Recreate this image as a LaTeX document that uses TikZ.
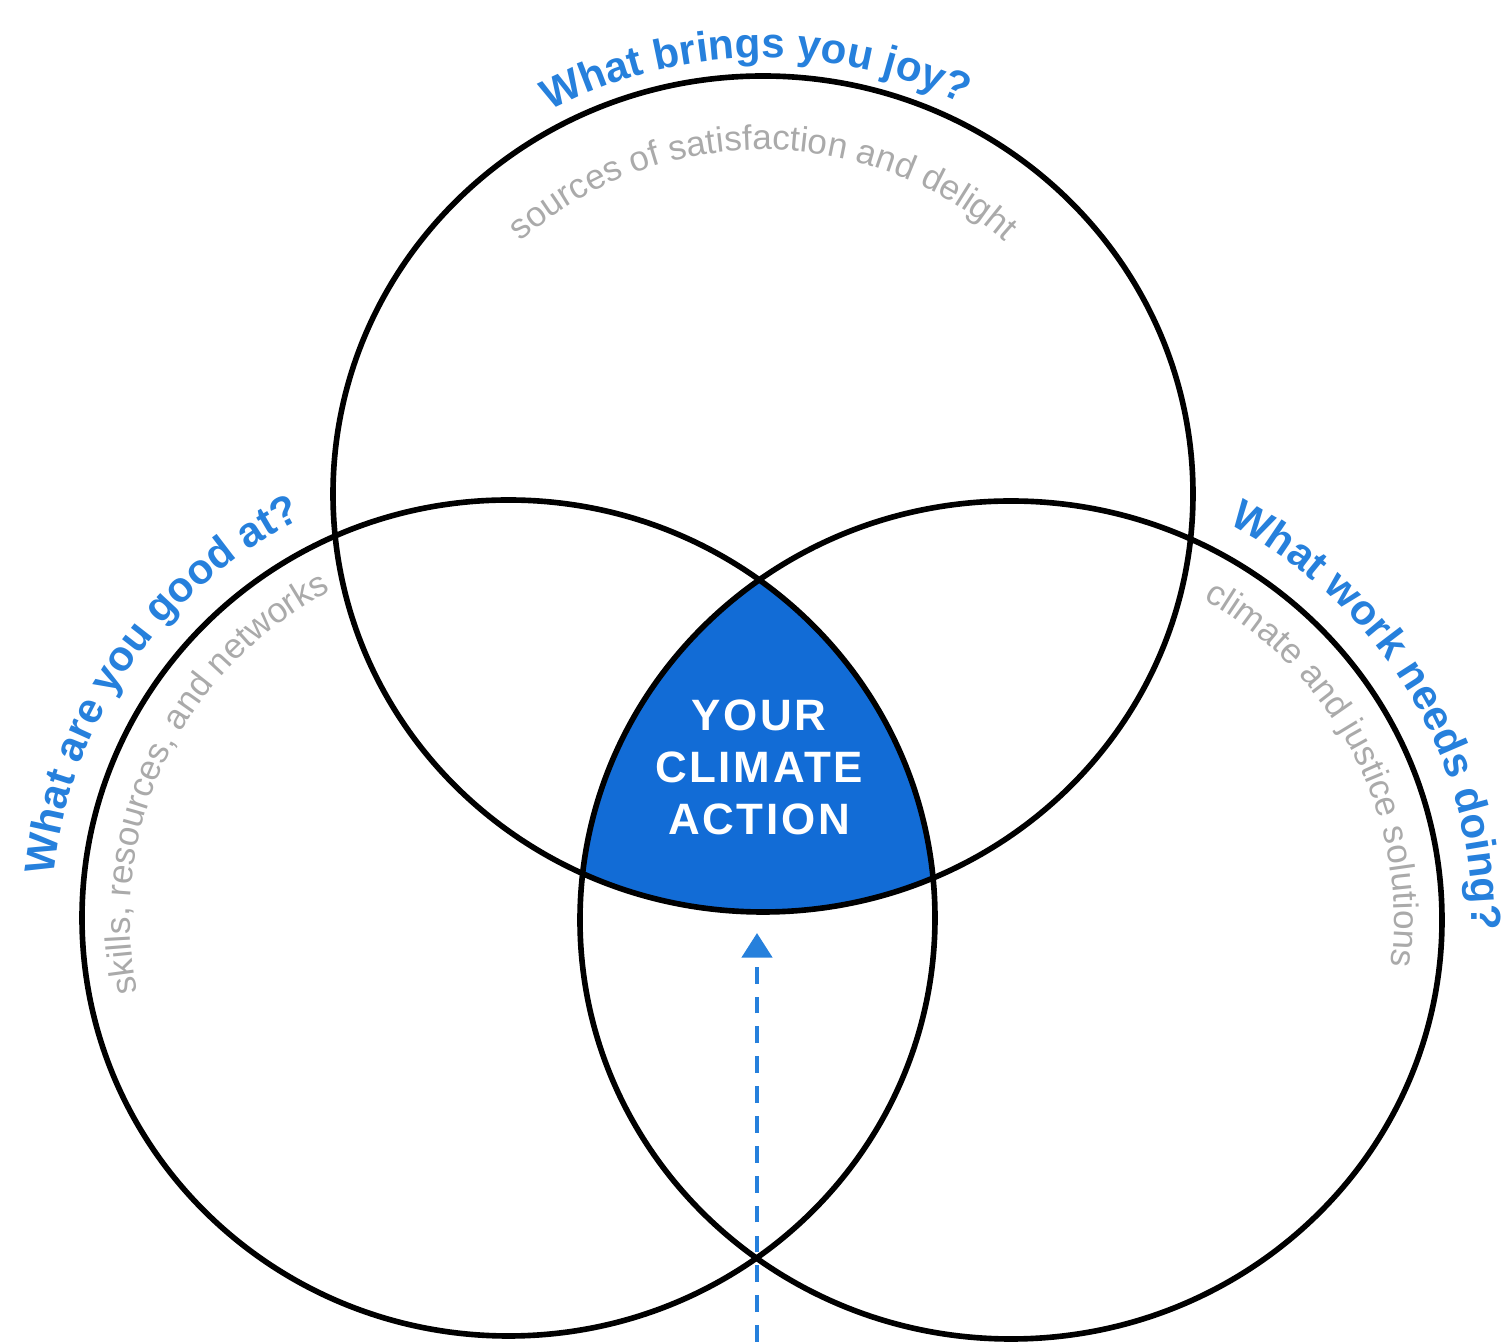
\documentclass[tikz,border=0pt]{standalone}
\usepackage{fontspec}
\setmainfont{Liberation Sans}
\newfontfamily\spacedfont[LetterSpace=6]{Liberation Sans}
\usetikzlibrary{arrows.meta,decorations.text}
\definecolor{actionblue}{RGB}{18,108,214}
\definecolor{askblue}{RGB}{38,128,220}
\definecolor{hintgray}{RGB}{170,170,170}

\begin{document}
\begin{tikzpicture}[
  ring/.style={line width=1.6pt,color=black},
  asktext/.style={decorate,decoration={text along path,text align=center,
    text color=askblue,text={|\fontsize{12}{14}\selectfont\bfseries|#1}}},
  hinttext/.style={decorate,decoration={text along path,text align=center,
    text color=hintgray,text={|\fontsize{10}{12}\selectfont|#1}}}]
\useasboundingbox (0,0) rectangle (15.06,13.42);
\coordinate (joy) at (7.63,8.48);
\coordinate (skill) at (5.085,4.24);
\coordinate (need) at (10.11,4.22);
\begin{scope}
\clip (skill) ellipse [x radius=4.265,y radius=4.18];
\clip (need) ellipse [x radius=4.31,y radius=4.19];
\fill[actionblue] (joy) ellipse [x radius=4.30,y radius=4.18];
\end{scope}
\coordinate (foot) at (7.57,0);
\coordinate (target) at (7.57,4.09);
\draw[askblue,line width=1.4pt,dash pattern=on 4.8pt off 3.7pt,-{Triangle[length=7pt,width=8.5pt]}] (foot) -- (target);
\draw[ring] (joy) ellipse [x radius=4.30,y radius=4.18];
\draw[ring] (skill) ellipse [x radius=4.265,y radius=4.18];
\draw[ring] (need) ellipse [x radius=4.31,y radius=4.19];
\node[text=white,align=center,inner sep=0pt,font=\spacedfont\bfseries\fontsize{12.5}{14.9}\selectfont] (action) at (7.59,5.745) {YOUR\\CLIMATE\\ACTION};
\path[asktext={What brings you joy?}] ([shift={(joy)}]150:4.48 and 4.36) arc[start angle=150,end angle=32,x radius=4.48,y radius=4.36];
\path[hinttext={sources of satisfaction and delight}] ([shift={(joy)}]160:3.56 and 3.44) arc[start angle=160,end angle=20,x radius=3.56,y radius=3.44];
\path[asktext={What are you good at?}] ([shift={(skill)}]206:4.565 and 4.48) arc[start angle=206,end angle=86,x radius=4.565,y radius=4.48];
\path[hinttext={skills, resources, and networks}] ([shift={(skill)}]215:3.785 and 3.70) arc[start angle=215,end angle=95,x radius=3.785,y radius=3.70];
\path[asktext={What work needs doing?}] ([shift={(need)}]90:4.61 and 4.49) arc[start angle=90,end angle=-30,x radius=4.61,y radius=4.49];
\path[hinttext={climate and justice solutions}] ([shift={(need)}]86:3.83 and 3.71) arc[start angle=86,end angle=-34,x radius=3.83,y radius=3.71];
\end{tikzpicture}
\end{document}
